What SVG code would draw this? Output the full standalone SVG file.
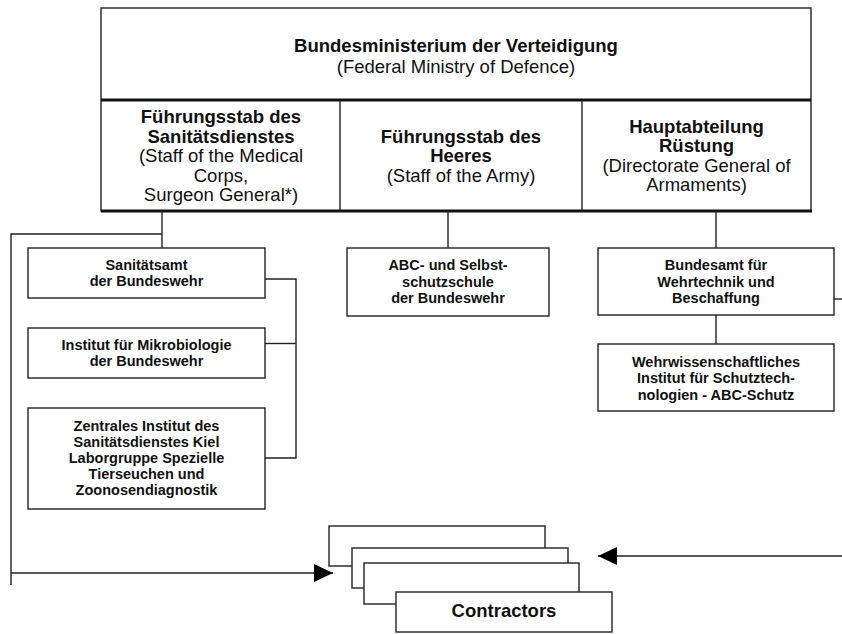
<svg xmlns="http://www.w3.org/2000/svg" width="842" height="634" viewBox="0 0 842 634">
<style>
  .box{fill:#fff;stroke:#222;stroke-width:1.4}
  .thick{stroke:#111;stroke-width:3;fill:none}
  .ln{stroke:#222;stroke-width:1.4;fill:none}
  text{font-family:"Liberation Sans",Arial,sans-serif;fill:#111;text-anchor:middle}
  .h{font-size:18.5px}
  .b{font-weight:bold}
  .s{font-size:14.5px;font-weight:bold}
</style>
<defs>
  <marker id="arr" markerWidth="20" markerHeight="18" refX="19" refY="9" orient="auto" markerUnits="userSpaceOnUse">
    <path d="M0,0 L19,9 L0,18 Z" fill="#000"/>
  </marker>
</defs>

<g id="bmvg">
  <rect class="box" x="101" y="8" width="710" height="203"/>
  <line class="thick" x1="101" y1="100" x2="811" y2="100"/>
  <line class="thick" x1="101" y1="211" x2="812" y2="211"/>
  <text class="h"><tspan class="b" x="456" y="52">Bundesministerium der Verteidigung</tspan><tspan x="456" y="73">(Federal Ministry of Defence)</tspan></text>
</g>
<g id="fuesan">
  <line class="ln" x1="340" y1="100" x2="340" y2="211"/>
  <text class="h"><tspan class="b" x="221" y="123">Führungsstab des</tspan><tspan class="b" x="221" y="142.5">Sanitätsdienstes</tspan><tspan x="221" y="162">(Staff of the Medical</tspan><tspan x="221" y="181.5">Corps,</tspan><tspan x="221" y="201">Surgeon General*)</tspan></text>
</g>
<g id="fueh">
  <line class="ln" x1="582" y1="100" x2="582" y2="211"/>
  <text class="h"><tspan class="b" x="461" y="142.5">Führungsstab des</tspan><tspan class="b" x="461" y="162">Heeres</tspan><tspan x="461" y="181.5">(Staff of the Army)</tspan></text>
</g>
<g id="hauptabt">
  <text class="h"><tspan class="b" x="696.5" y="132.5">Hauptabteilung</tspan><tspan class="b" x="696.5" y="152">Rüstung</tspan><tspan x="696.5" y="171.5">(Directorate General of</tspan><tspan x="696.5" y="191">Armaments)</tspan></text>
</g>

<g id="connectors">
  <line class="ln" x1="162" y1="211" x2="162" y2="248"/>
  <polyline class="ln" points="162,234 11,234 11,585"/>
  <line class="ln" x1="11" y1="573" x2="333" y2="573" marker-end="url(#arr)"/>
  <polyline class="ln" points="265,279 296,279 296,458 265,458"/>
  <line class="ln" x1="265" y1="343.5" x2="296" y2="343.5"/>
  <line class="ln" x1="448" y1="211" x2="448" y2="248"/>
  <line class="ln" x1="716" y1="211" x2="716" y2="248"/>
  <line class="ln" x1="716" y1="315" x2="716" y2="344"/>
  <line class="ln" x1="834" y1="299" x2="842" y2="299"/>
  <line class="ln" x1="842" y1="556" x2="598" y2="556" marker-end="url(#arr)"/>
</g>

<g id="sanamt">
  <rect class="box" x="28" y="248" width="237" height="50"/>
  <text class="s"><tspan x="146.5" y="270">Sanitätsamt</tspan><tspan x="146.5" y="286">der Bundeswehr</tspan></text>
</g>
<g id="mikrobio">
  <rect class="box" x="28" y="328" width="237" height="50"/>
  <text class="s"><tspan x="146.5" y="350">Institut für Mikrobiologie</tspan><tspan x="146.5" y="366">der Bundeswehr</tspan></text>
</g>
<g id="zentral">
  <rect class="box" x="28" y="408" width="237" height="101"/>
  <text class="s"><tspan x="146.5" y="430.5">Zentrales Institut des</tspan><tspan x="146.5" y="446.5">Sanitätsdienstes Kiel</tspan><tspan x="146.5" y="462.5">Laborgruppe Spezielle</tspan><tspan x="146.5" y="478.5">Tierseuchen und</tspan><tspan x="146.5" y="494.5">Zoonosendiagnostik</tspan></text>
</g>
<g id="abc">
  <rect class="box" x="347" y="248" width="202" height="68"/>
  <text class="s"><tspan x="448" y="270">ABC- und Selbst-</tspan><tspan x="448" y="286.5">schutzschule</tspan><tspan x="448" y="303">der Bundeswehr</tspan></text>
</g>
<g id="bwb">
  <rect class="box" x="598" y="248" width="236" height="67"/>
  <text class="s"><tspan x="716" y="270">Bundesamt für</tspan><tspan x="716" y="286.5">Wehrtechnik und</tspan><tspan x="716" y="303">Beschaffung</tspan></text>
</g>
<g id="wiss">
  <rect class="box" x="598" y="344" width="236" height="67"/>
  <text class="s"><tspan x="716" y="366.5">Wehrwissenschaftliches</tspan><tspan x="716" y="383">Institut für Schutztech-</tspan><tspan x="716" y="399.5">nologien - ABC-Schutz</tspan></text>
</g>
<g id="contractors">
  <rect class="box" x="329" y="526" width="216" height="40"/>
  <rect class="box" x="352" y="548" width="216" height="40"/>
  <rect class="box" x="364" y="563" width="215" height="41"/>
  <rect class="box" x="396" y="592" width="216" height="40"/>
  <text class="h b" x="504" y="617">Contractors</text>
</g>
</svg>
